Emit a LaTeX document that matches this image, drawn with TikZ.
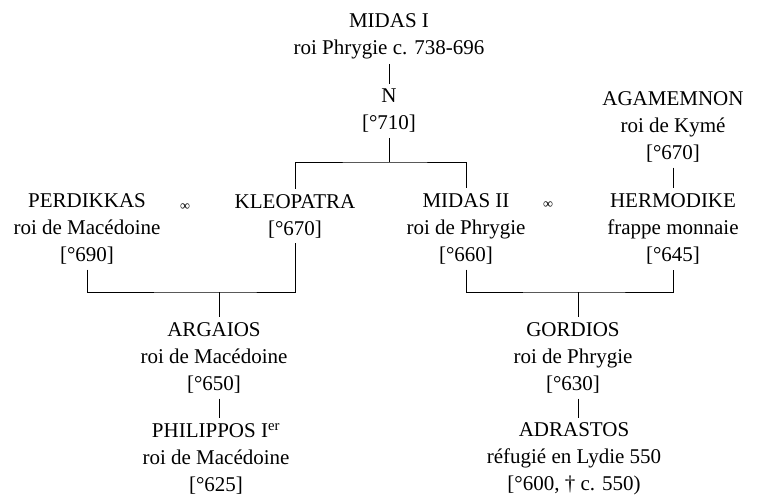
\documentclass[tikz,border=0pt]{standalone}
\usepackage{fontspec}
\setmainfont{Liberation Serif}
\usetikzlibrary{calc}

\begin{document}
\begin{tikzpicture}[
    x=1pt, y=-1pt,
    person/.style={align=center, inner xsep=0pt, inner ysep=5pt,
                   font=\fontsize{21}{27}\selectfont},
    wed/.style={inner sep=0pt, font=\fontsize{14}{14}\selectfont},
    link/.style={line width=0.8pt}
  ]
    \useasboundingbox (0,0) rectangle (760,497);

    % Top of the line
    \node[person] (midas1) at (389,36) {MIDAS I\\roi Phrygie c. 738-696};
    \node[person] (n) at (389,111) {N\\{[}°710]};
    \node[person] (agamemnon) at (673,127) {AGAMEMNON\\roi de Kymé\\{[}°670]};

    % Couples
    \node[person] (perdikkas) at (87,229) {PERDIKKAS\\roi de Macédoine\\{[}°690]};
    \node[wed] (wedL) at (185,207) {∞};
    \node[person] (kleopatra) at (295,216) {KLEOPATRA\\{[}°670]};
    \node[person] (midas2) at (466,229) {MIDAS II\\roi de Phrygie\\{[}°660]};
    \node[wed] (wedR) at (548,205) {∞};
    \node[person] (hermodike) at (673,229) {HERMODIKE\\frappe monnaie\\{[}°645]};

    % Children
    \node[person] (argaios) at (214,358) {ARGAIOS\\roi de Macédoine\\{[}°650]};
    \node[person] (philippos) at (216,459)
      {PHILIPPOS I\textsuperscript{er}\\roi de Macédoine\\{[}°625]};
    \node[person] (gordios) at (573,358) {GORDIOS\\roi de Phrygie\\{[}°630]};
    \node[person] (adrastos) at (574,459)
      {ADRASTOS\\réfugié en Lydie 550\\{[}°600, † c. 550)};

    \coordinate (jN) at (389,162);
    \coordinate (jL) at (219,292);
    \coordinate (jR) at (578,292);

    \draw[link] (midas1.south) -- (n.north);
    \draw[link] (n.south) -- (jN);
    \draw[link] (kleopatra.north) |- (jN) -| (midas2.north);
    \draw[link] (agamemnon.south) -- (hermodike.north);

    \draw[link] (perdikkas.south) |- (jL) -| (kleopatra.south);
    \draw[link] (jL) -- (jL |- argaios.north);
    \draw[link] (argaios.south -| jL) -- (philippos.north -| jL);

    \draw[link] (midas2.south) |- (jR) -| (hermodike.south);
    \draw[link] (jR) -- (jR |- gordios.north);
    \draw[link] (gordios.south -| jR) -- (adrastos.north -| jR);
  \end{tikzpicture}
\end{document}
